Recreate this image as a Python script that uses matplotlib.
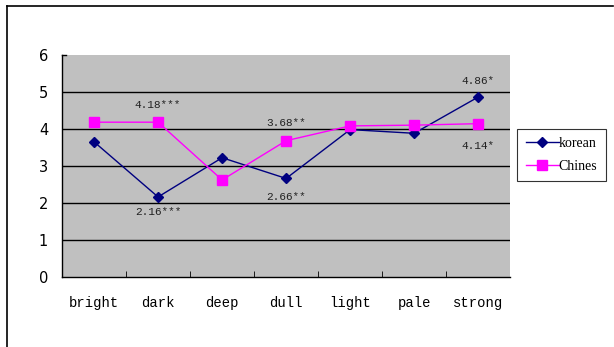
import matplotlib.pyplot as plt
from matplotlib.lines import Line2D

words = ['bright', 'dark', 'deep', 'dull', 'light', 'pale', 'strong']
korean = [3.65, 2.16, 3.22, 2.66, 3.98, 3.88, 4.86]
chinese = [4.18, 4.18, 2.62, 3.68, 4.08, 4.10, 4.14]
notes = ['4.18***', '2.16***', '3.68**', '2.66**', '4.86*', '4.14*']
note_x = [1, 1, 3, 3, 6, 6]
note_y = [4.65, 1.75, 4.15, 2.15, 5.3, 3.55]

fig = plt.figure(figsize=(6.14, 3.47), dpi=100)
# frame: only left and top edges are visible in the original
fig.lines.append(Line2D([0.011, 0.011], [0.0, 0.983], transform=fig.transFigure, color='black', linewidth=1.2))
fig.lines.append(Line2D([0.011, 0.998], [0.983, 0.983], transform=fig.transFigure, color='black', linewidth=1.2))

ax = fig.add_axes([0.101, 0.202, 0.730, 0.640])
ax.set_facecolor('#c0c0c0')

x = list(range(len(words)))
ax.plot(x, korean, color='#000080', marker='D', markersize=5, linewidth=1.0, label='korean')
ax.plot(x, chinese, color='#ff00ff', marker='s', markersize=7, linewidth=1.0, label='Chines')

for yy in [1, 2, 3, 4, 5]:
    ax.axhline(yy, color='black', linewidth=1.0, zorder=0.5)

for t, xx, yy in zip(notes, note_x, note_y):
    ax.text(xx, yy, t, ha='center', va='center', fontsize=8, family='Liberation Mono', color='#222222')

ax.set_xlim(-0.5, 6.5)
ax.set_ylim(0, 6)
ax.set_yticks([0, 1, 2, 3, 4, 5, 6])
ax.set_yticklabels(['0', '1', '2', '3', '4', '5', '6'], fontsize=10.5, family='Liberation Sans Narrow')
ax.set_xticks(x)
ax.set_xticklabels(words, fontsize=10, family='Liberation Mono')
ax.set_xticks([i + 0.5 for i in range(6)], minor=True)
ax.tick_params(axis='x', which='major', length=0, pad=14)
ax.tick_params(axis='x', which='minor', direction='in', length=4)
ax.tick_params(axis='y', length=0, pad=10)
ax.plot([-0.5, -0.44], [6, 6], color='black', linewidth=1.0, clip_on=False)
ax.spines['top'].set_visible(False)
ax.spines['right'].set_visible(False)
ax.spines['left'].set_linewidth(1.0)
ax.spines['bottom'].set_linewidth(1.0)

leg = ax.legend(loc='center left', bbox_to_anchor=(1.0, 0.55), frameon=True, fancybox=False,
                edgecolor='black', prop={'family': 'Liberation Serif', 'size': 10},
                handlelength=2.4, handletextpad=0.0, borderpad=0.6, labelspacing=0.7)
leg.get_frame().set_linewidth(0.8)

fig.savefig('out.png', dpi=100)
